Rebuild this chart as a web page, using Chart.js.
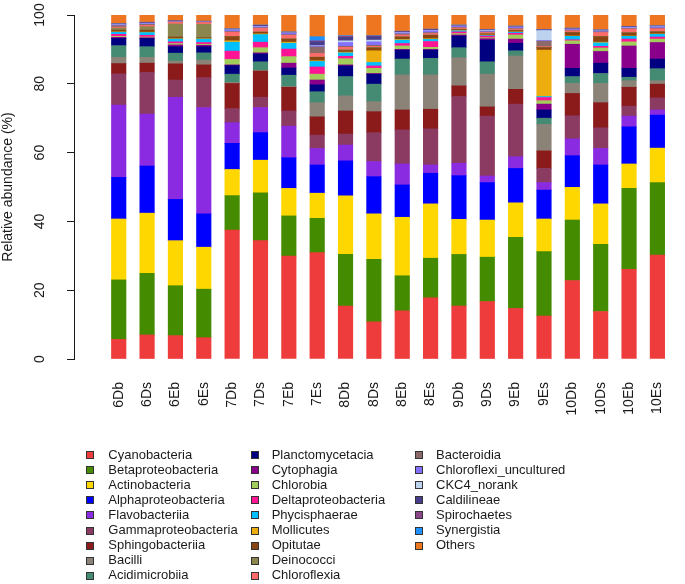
<!DOCTYPE html>
<html>
<head>
<meta charset="utf-8">
<script src="https://cdn.jsdelivr.net/npm/chart.js@4.4.1/dist/chart.umd.min.js"></script>
<style>
  html, body { margin: 0; padding: 0; background: #ffffff; }
  #wrap { position: relative; width: 685px; height: 584px; }
  #legend { position: absolute; left: 0; top: 0; width: 685px; height: 584px; pointer-events: none;
            font-family: "Liberation Sans", Arial, sans-serif; font-size: 13px; color: #1a1a1a; }
  .lbox { position: absolute; width: 8px; height: 8px; box-sizing: border-box; border: 1px solid #333; }
  .ltxt { position: absolute; height: 16px; line-height: 16px; white-space: nowrap; }
</style>
</head>
<body>
<div id="wrap">
  <canvas id="c" width="685" height="584"></canvas>
  <div id="legend"></div>
</div>
<script>
// ---- data ----
const sampleLabels = ['6Db','6Ds','6Eb','6Es','7Db','7Ds','7Eb','7Es','8Db','8Ds','8Eb','8Es','9Db','9Ds','9Eb','9Es','10Db','10Ds','10Eb','10Es'];
const yTicks = [0, 20, 40, 60, 80, 100];

const taxa = ['Cyanobacteria','Betaproteobacteria','Actinobacteria','Alphaproteobacteria','Flavobacteriia',
  'Gammaproteobacteria','Sphingobacteriia','Bacilli','Acidimicrobiia','Planctomycetacia','Cytophagia',
  'Chlorobia','Deltaproteobacteria','Phycisphaerae','Mollicutes','Opitutae','Deinococci','Chloroflexia',
  'Bacteroidia','Chloroflexi_uncultured','CKC4_norank','Caldilineae','Spirochaetes','Synergistia','Others'];

const cyanobacteria       = [5.7, 7.0, 6.8, 6.2, 37.5, 34.4, 29.9, 30.9, 15.4, 10.8, 14.0, 17.8, 15.4, 16.7, 14.7, 12.5, 22.8, 13.8, 26.1, 30.2];
const betaproteobacteria  = [17.3, 17.9, 14.5, 14.1, 10.0, 13.9, 11.7, 10.0, 15.0, 18.2, 10.2, 11.5, 15.0, 12.9, 20.7, 18.7, 17.6, 19.5, 23.5, 21.1];
const actinobacteria      = [17.7, 17.5, 13.1, 12.2, 7.6, 9.5, 8.0, 7.3, 17.0, 13.2, 17.0, 15.8, 10.2, 10.8, 10.0, 9.5, 9.5, 11.8, 7.1, 10.0];
const alphaproteobacteria = [12.1, 13.7, 12.0, 9.7, 7.6, 8.0, 8.9, 8.2, 10.2, 10.8, 9.4, 8.9, 12.7, 10.9, 10.0, 8.4, 9.2, 11.3, 10.8, 9.6];
const flavobacteriia      = [21.0, 15.1, 29.7, 30.9, 6.0, 7.3, 9.2, 4.8, 4.6, 4.4, 6.1, 2.4, 3.6, 1.9, 3.4, 2.2, 4.9, 4.8, 3.1, 1.5];
const gammaproteobacteria = [9.1, 12.1, 5.0, 8.7, 4.1, 3.0, 4.4, 3.9, 3.2, 8.4, 9.9, 10.5, 19.4, 17.4, 15.3, 4.1, 6.7, 6.0, 2.9, 3.5];
const sphingobacteriia    = [3.0, 2.7, 4.7, 3.7, 7.3, 7.6, 6.9, 5.3, 6.7, 6.1, 5.8, 5.7, 3.1, 2.7, 4.3, 5.1, 6.5, 7.3, 5.5, 4.0];
const bacilli             = [1.8, 1.7, 0.8, 1.4, 0.3, 0.2, 0.2, 4.1, 4.4, 2.9, 10.2, 10.0, 8.2, 9.5, 9.7, 7.7, 2.9, 5.6, 1.9, 1.0];
const acidimicrobiia      = [3.4, 3.1, 2.3, 2.1, 2.4, 2.5, 3.3, 3.2, 5.6, 5.1, 4.6, 4.8, 2.9, 3.6, 1.5, 1.8, 2.0, 2.9, 1.0, 3.5];
const planctomycetacia    = [2.1, 2.4, 1.9, 1.8, 2.5, 2.3, 2.1, 2.0, 3.1, 2.9, 2.6, 2.4, 3.4, 6.3, 2.2, 2.4, 2.4, 3.0, 2.6, 2.8];
const cytophagia          = [0.3, 0.2, 0.5, 0.4, 0.2, 0.3, 1.4, 1.4, 0.3, 0.2, 0.2, 0.2, 0.3, 0.4, 1.2, 1.7, 7.0, 3.4, 6.5, 4.8];
const chlorobia           = [0.3, 0.2, 0.4, 0.3, 1.6, 1.5, 1.9, 1.7, 1.8, 1.5, 1.0, 0.6, 0.4, 0.3, 1.2, 1.0, 1.0, 1.0, 1.2, 1.0];
const deltaproteobacteria = [0.6, 0.5, 0.5, 0.5, 2.4, 1.6, 2.2, 2.1, 0.7, 0.7, 0.7, 1.7, 0.5, 0.5, 0.5, 0.9, 0.3, 0.5, 0.8, 0.6];
const phycisphaerae       = [0.6, 0.8, 0.8, 1.0, 2.6, 2.2, 1.7, 1.6, 1.0, 1.0, 1.0, 0.6, 0.3, 0.2, 0.3, 0.3, 1.0, 1.0, 0.8, 0.8];
const mollicutes          = [0.1, 0.1, 0.1, 0.1, 0.4, 0.2, 0.3, 0.2, 0.2, 3.4, 0.2, 0.2, 0.1, 0.1, 0.1, 13.5, 0.1, 0.2, 0.1, 0.1];
const opitutae            = [0.5, 0.6, 0.5, 0.3, 1.2, 0.5, 0.9, 1.0, 0.5, 0.8, 0.7, 1.0, 0.3, 0.3, 0.4, 0.7, 1.0, 1.6, 0.9, 0.6];
const deinococci          = [0.6, 1.0, 3.8, 3.9, 0.1, 0.1, 0.1, 0.1, 0.2, 0.2, 0.1, 0.1, 0.1, 0.1, 0.1, 0.1, 0.1, 0.1, 0.1, 0.1];
const chloroflexia        = [0.3, 0.4, 0.5, 0.5, 1.2, 1.0, 1.0, 1.0, 0.7, 0.3, 0.5, 0.4, 0.3, 0.3, 0.3, 0.2, 0.4, 1.1, 1.0, 0.8];
const bacteroidia         = [0.4, 0.3, 0.1, 0.2, 0.2, 0.2, 0.2, 1.9, 0.3, 0.3, 0.3, 0.3, 0.2, 0.2, 0.2, 1.6, 0.2, 0.2, 0.2, 0.2];
const chloroflexiUncult   = [0.2, 0.2, 0.1, 0.1, 0.4, 0.3, 0.4, 0.3, 1.1, 1.0, 0.3, 0.5, 0.3, 0.2, 0.3, 0.2, 0.2, 0.2, 0.2, 0.3];
const ckc4Norank          = [0.1, 0.1, 0.0, 0.0, 0.1, 0.1, 0.1, 0.1, 0.5, 0.5, 0.1, 0.1, 0.1, 0.2, 0.1, 2.9, 0.1, 0.1, 0.1, 0.1];
const caldilineae         = [0.1, 0.1, 0.1, 0.0, 0.1, 0.2, 0.1, 1.1, 1.0, 1.0, 0.2, 0.2, 0.1, 0.1, 0.1, 0.1, 0.1, 0.1, 0.1, 0.1];
const spirochaetes        = [0.1, 0.1, 0.1, 0.1, 0.1, 0.1, 0.1, 0.3, 0.3, 0.2, 0.1, 0.1, 0.1, 0.1, 0.1, 0.1, 0.1, 0.1, 0.1, 0.1];
const synergistia         = [0.1, 0.1, 0.0, 0.0, 0.1, 0.1, 0.1, 1.2, 0.2, 0.1, 0.1, 0.1, 0.1, 0.1, 0.1, 0.1, 0.1, 0.1, 0.1, 0.1];
const others              = [2.6, 2.2, 2.0, 2.1, 4.4, 3.2, 5.0, 6.6, 5.7, 6.1, 4.8, 4.2, 3.1, 4.1, 3.2, 4.2, 4.1, 4.4, 3.3, 3.1];

const seriesValues = [cyanobacteria, betaproteobacteria, actinobacteria, alphaproteobacteria, flavobacteriia,
  gammaproteobacteria, sphingobacteriia, bacilli, acidimicrobiia, planctomycetacia, cytophagia, chlorobia,
  deltaproteobacteria, phycisphaerae, mollicutes, opitutae, deinococci, chloroflexia, bacteroidia,
  chloroflexiUncult, ckc4Norank, caldilineae, spirochaetes, synergistia, others];

// ---- styles ----
const taxonColors = ['#EE3B3B','#458B00','#FFD700','#0000FF','#8A2BE2','#8B3A62','#8B1A1A','#8B8378',
  '#458B74','#000080','#8B008B','#A2CD5A','#FF1493','#00BFFF','#EEAD0E','#8B4513','#8B864E','#FF6A6A',
  '#8B6969','#8470FF','#BCD2EE','#483D8B','#8B4789','#1E90FF','#EE7621'];

const FONT = '"Liberation Sans", Arial, Helvetica, sans-serif';
const INK = '#1a1a1a';
Chart.defaults.font.family = FONT;
Chart.defaults.font.size = 14;
Chart.defaults.color = INK;

const chart = new Chart(document.getElementById('c').getContext('2d'), {
  type: 'bar',
  data: {
    labels: sampleLabels.map((_, i) => i),
    datasets: taxa.map((name, k) => ({
      label: name,
      data: seriesValues[k],
      backgroundColor: taxonColors[k],
      borderWidth: 0,
      barThickness: 14.5,
      stack: 'all'
    }))
  },
  options: {
    responsive: false,
    animation: false,
    devicePixelRatio: 1,
    layout: { padding: { top: 15, right: 0, bottom: 0, left: 0 } },
    plugins: { legend: { display: false }, tooltip: { enabled: false } },
    scales: {
      x: {
        type: 'linear',
        stacked: true,
        min: -1.0388,
        max: 19.435,
        afterBuildTicks: s => { s.ticks = sampleLabels.map((_, i) => ({ value: i })); },
        ticks: {
          callback: v => sampleLabels[v],
          minRotation: 90, maxRotation: 90, autoSkip: false, padding: 0,
          font: { size: 14, family: FONT }, color: INK
        },
        grid: { display: false, drawTicks: true, tickLength: 23 },
        border: { display: false },
        afterFit: s => { s.height = 225; s.paddingLeft = 0; s.paddingRight = 0; }
      },
      y: {
        stacked: true,
        min: 0,
        max: 100,
        afterBuildTicks: s => { s.ticks = yTicks.map(v => ({ value: v })); },
        ticks: {
          minRotation: 90, maxRotation: 90, crossAlign: 'center', padding: 15.3,
          font: { size: 14, family: FONT }, color: INK
        },
        grid: { drawOnChartArea: false, drawTicks: true, tickLength: 7, color: INK, lineWidth: 1 },
        border: { display: true, color: INK, width: 1 },
        title: { display: true, text: 'Relative abundance (%)', font: { size: 14, family: FONT }, color: INK, padding: 0 },
        afterFit: s => { s.width = 74; s.paddingTop = 0; s.paddingBottom = 0; }
      }
    }
  }
});

// ---- HTML legend (column-major, 3 columns of 9 rows), built from the chart's legend items ----
const legendCols = [{ box: 89.7, text: 108.3 }, { box: 255, text: 271.7 }, { box: 419, text: 436 }];
const legendRowTop = 455, legendRowStep = 15.1, legendRowsPerCol = 9;
const items = Chart.defaults.plugins.legend.labels.generateLabels(chart);
const legendEl = document.getElementById('legend');
items.forEach((it, k) => {
  const col = Math.floor(k / legendRowsPerCol), row = k % legendRowsPerCol;
  const cy = legendRowTop + row * legendRowStep;
  const b = document.createElement('div');
  b.className = 'lbox';
  b.style.left = (legendCols[col].box - 4) + 'px';
  b.style.top = (cy - 4) + 'px';
  b.style.background = it.fillStyle;
  legendEl.appendChild(b);
  const t = document.createElement('div');
  t.className = 'ltxt';
  t.style.left = legendCols[col].text + 'px';
  t.style.top = (cy - 8.5) + 'px';
  t.textContent = it.text;
  legendEl.appendChild(t);
});
</script>
</body>
</html>
